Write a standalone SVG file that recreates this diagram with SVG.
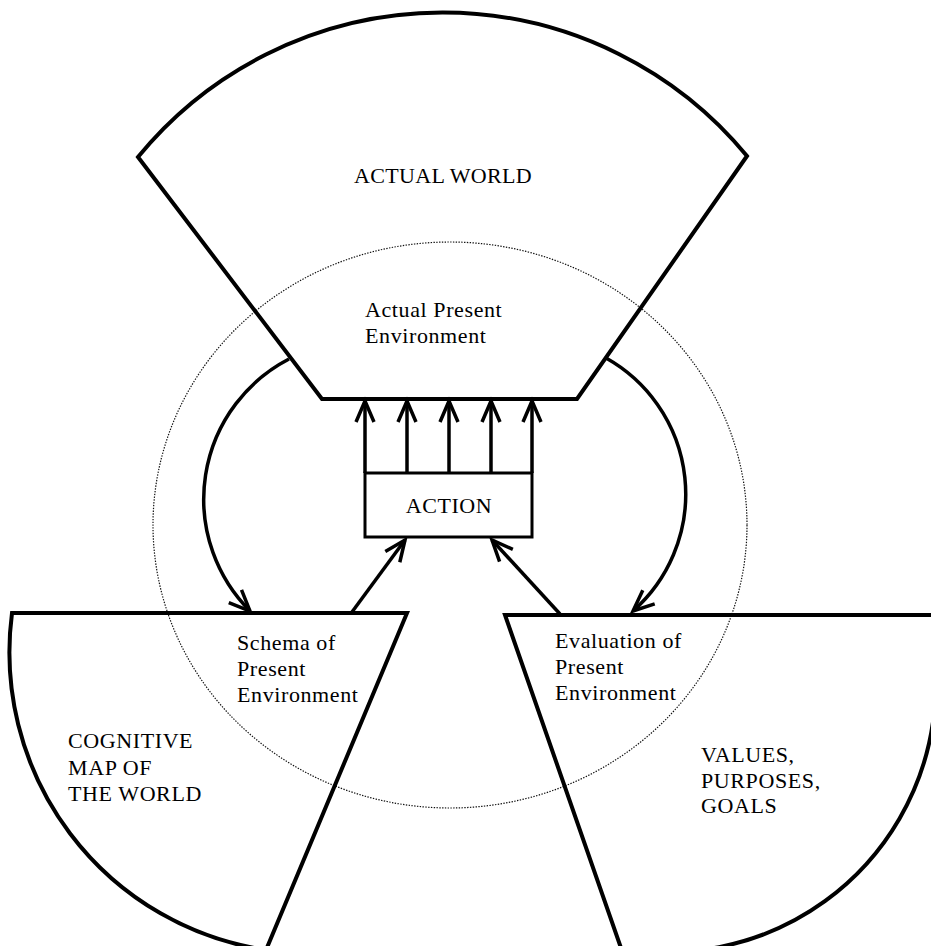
<svg xmlns="http://www.w3.org/2000/svg" width="931" height="946" viewBox="0 0 931 946">
  <style>
    .shape { fill: none; stroke: #000; stroke-width: 4; stroke-linejoin: miter; }
    .box { fill: #fff; stroke: #000; stroke-width: 3; }
    .conn { fill: none; stroke: #000; stroke-width: 3.5; marker-end: url(#ah); }
    .dots { fill: none; stroke: #111; stroke-width: 1.2; stroke-dasharray: 1.4 1.4; }
    text { font-family: "Liberation Serif", "Times New Roman", serif; font-size: 22px; letter-spacing: 0.6px; fill: #000; }
    .c { text-anchor: middle; }
  </style>
  <defs>
    <marker id="ah" markerUnits="userSpaceOnUse" viewBox="-26 -13 34 26" markerWidth="34" markerHeight="26" refX="0" refY="0" orient="auto">
      <path d="M-21,-9 L0,0 L-21,9" fill="none" stroke="#000" stroke-width="3.5"/>
    </marker>
  </defs>

  <ellipse class="dots" cx="450" cy="525" rx="297" ry="283"/>

  <g id="actual-world">
    <path class="shape" d="M322,399 L138,157 A394,394 0 0,1 747,156 L577,399 Z"/>
    <text class="c" x="443" y="183" style="letter-spacing:0.3px">ACTUAL WORLD</text>
    <text x="365" y="317">Actual Present</text>
    <text x="365" y="343">Environment</text>
  </g>

  <g id="cognitive-map">
    <path class="shape" d="M407,613 L12,613 A301,301 0 0,0 266,950 Z"/>
    <text x="237" y="650">Schema of</text>
    <text x="237" y="676">Present</text>
    <text x="237" y="702">Environment</text>
    <text x="68" y="748">COGNITIVE</text>
    <text x="68" y="775">MAP OF</text>
    <text x="68" y="801">THE WORLD</text>
  </g>

  <g id="values">
    <path class="shape" d="M505,615 L945,615 L945,722 L933,722 A268,268 0 0,1 621,948 Z"/>
    <text x="555" y="648">Evaluation of</text>
    <text x="555" y="674">Present</text>
    <text x="555" y="700">Environment</text>
    <text x="701" y="762">VALUES,</text>
    <text x="701" y="788">PURPOSES,</text>
    <text x="701" y="813">GOALS</text>
  </g>

  <g id="action">
    <rect class="box" x="365" y="473" width="167" height="64"/>
    <text class="c" x="449" y="513">ACTION</text>
  </g>

  <g id="connectors">
    <line class="conn" x1="365" y1="473" x2="365" y2="401"/>
    <line class="conn" x1="407" y1="473" x2="407" y2="401"/>
    <line class="conn" x1="449" y1="473" x2="449" y2="401"/>
    <line class="conn" x1="491" y1="473" x2="491" y2="401"/>
    <line class="conn" x1="532" y1="473" x2="532" y2="401"/>
    <path class="conn" d="M289,359 A158,158 0 0,0 250,611"/>
    <path class="conn" d="M606,358 A156,156 0 0,1 633,611"/>
    <line class="conn" x1="352" y1="612" x2="405" y2="540"/>
    <line class="conn" x1="560" y1="614" x2="492" y2="540"/>
  </g>
</svg>
